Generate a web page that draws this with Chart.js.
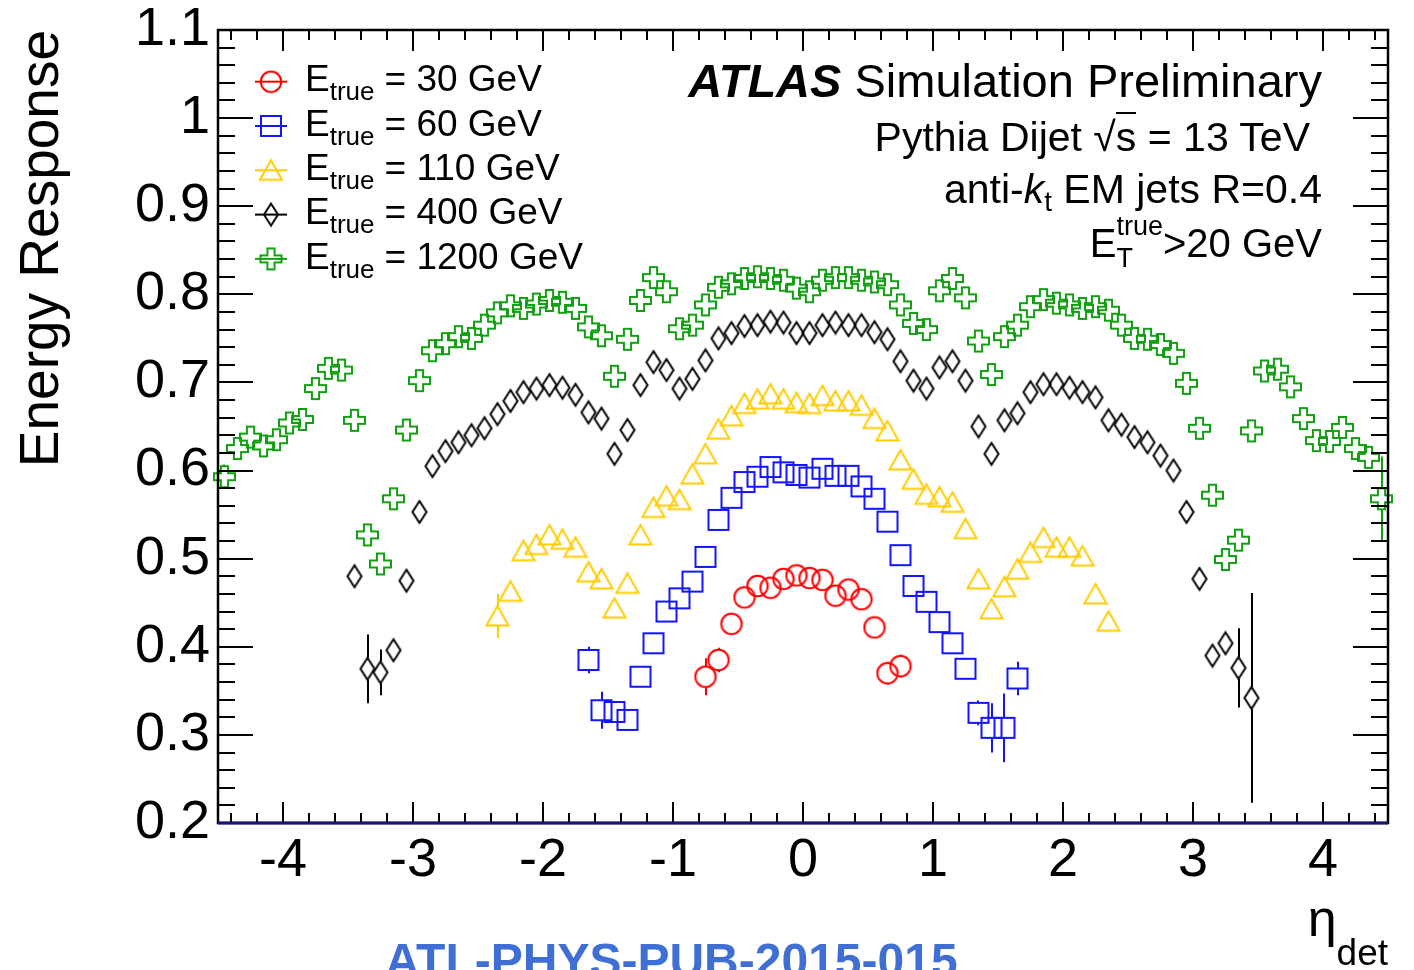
<!DOCTYPE html>
<html>
<head>
<meta charset="utf-8">
<title>Energy Response vs eta_det</title>
<script src="https://cdn.jsdelivr.net/npm/chart.js@4.4.1/dist/chart.umd.min.js"></script>
<style>
  html, body { margin: 0; padding: 0; background: #fff; overflow: hidden; }
  #wrap {
    position: relative; width: 1414px; height: 970px; overflow: hidden;
    font-family: "Liberation Sans", Arial, Helvetica, sans-serif; color: #000;
  }
  #wrap canvas { position: absolute; left: 0; top: 0; }
  .txt { position: absolute; white-space: nowrap; line-height: 1; }
  .lab { font-size: 47px; right: 92px; text-align: right; }
  .leg { font-size: 37px; left: 305px; }
  .leg .sub { font-size: 26px; position: relative; top: 9px; margin-right: 10px; }
</style>
</head>
<body>
<div id="wrap">
  <canvas id="responseChart" width="1414" height="970"></canvas>

  <div class="txt lab" style="top:57px;"><b><i>ATLAS</i></b> Simulation Preliminary</div>
  <div class="txt lab" style="top:117px; right:104px; font-size:41px;">Pythia Dijet &radic;<span style="border-top:2px solid #000;">s</span> = 13 TeV</div>
  <div class="txt lab" style="top:169px; font-size:41px;">anti-<i>k</i><span style="font-size:28px; position:relative; top:8px;">t</span> EM jets R=0.4</div>
  <div class="txt lab" style="top:223px; font-size:40px;">E<span style="position:relative; display:inline-block;"><span style="font-size:27px; position:relative; top:-22px;">true</span><span style="font-size:27px; position:absolute; left:0; top:22px;">T</span></span>&gt;20 GeV</div>

  <div id="legendText"></div>

  <div class="txt" style="right:26px; top:892px; font-size:52px;">&eta;<span style="font-size:37px; position:relative; top:29px;">det</span></div>
  <div class="txt" style="left:385px; top:937px; font-size:48px; font-weight:bold; color:#3f6fd4;">ATL-PHYS-PUB-2015-015</div>
</div>

<script>
"use strict";

// bin centres in eta_det
const ETA_BINS = [
  -4.45, -4.35, -4.25, -4.15, -4.05, -3.95, -3.85, -3.75, -3.65, -3.55,
  -3.45, -3.35, -3.25, -3.15, -3.05, -2.95, -2.85, -2.75, -2.65, -2.55,
  -2.45, -2.35, -2.25, -2.15, -2.05, -1.95, -1.85, -1.75, -1.65, -1.55,
  -1.45, -1.35, -1.25, -1.15, -1.05, -0.95, -0.85, -0.75, -0.65, -0.55,
  -0.45, -0.35, -0.25, -0.15, -0.05,  0.05,  0.15,  0.25,  0.35,  0.45,
   0.55,  0.65,  0.75,  0.85,  0.95,  1.05,  1.15,  1.25,  1.35,  1.45,
   1.55,  1.65,  1.75,  1.85,  1.95,  2.05,  2.15,  2.25,  2.35,  2.45,
   2.55,  2.65,  2.75,  2.85,  2.95,  3.05,  3.15,  3.25,  3.35,  3.45,
   3.55,  3.65,  3.75,  3.85,  3.95,  4.05,  4.15,  4.25,  4.35,  4.45,
];

const SERIES_LABELS = ["30 GeV", "60 GeV", "110 GeV", "400 GeV", "1200 GeV"];
const SERIES_FIRST_ETA = [-0.75, -1.65, -2.35, -3.45, -4.45];

const RESP_30 = [
  0.366, 0.385, 0.426, 0.456, 0.469, 0.467, 0.477, 0.481,
  0.478, 0.476, 0.458, 0.465, 0.454, 0.422, 0.370, 0.378,
];
const RESP_60 = [
  0.385, 0.328, 0.326, 0.317, 0.366, 0.404, 0.440, 0.455, 0.474, 0.502,
  0.544, 0.569, 0.587, 0.593, 0.604, 0.598, 0.595, 0.592, 0.602, 0.594,
  0.594, 0.582, 0.568, 0.542, 0.504, 0.469, 0.451, 0.428, 0.404, 0.375,
  0.325, 0.308, 0.308, 0.364,
];
const RESP_110 = [
  0.435, 0.463, 0.509, 0.516, 0.527, 0.522, 0.513, 0.485, 0.477, 0.444,
  0.472, 0.527, 0.558, 0.571, 0.567, 0.596, 0.619, 0.647, 0.662, 0.676,
  0.681, 0.687, 0.681, 0.677, 0.676, 0.685, 0.679, 0.679, 0.674, 0.659,
  0.645, 0.612, 0.590, 0.573, 0.570, 0.564, 0.534, 0.477, 0.443, 0.468,
  0.488, 0.507, 0.524, 0.513, 0.513, 0.503, 0.460, 0.429,
];
const RESP_400 = [
  0.480, 0.375, 0.371, 0.396, 0.475, 0.553, 0.605, 0.622, 0.632, 0.640,
  0.648, 0.664, 0.679, 0.689, 0.693, 0.697, 0.694, 0.686, 0.666, 0.659,
  0.619, 0.646, 0.697, 0.723, 0.714, 0.693, 0.704, 0.725, 0.750, 0.756,
  0.764, 0.765, 0.769, 0.768, 0.756, 0.756, 0.765, 0.768, 0.765, 0.765,
  0.757, 0.749, 0.724, 0.702, 0.693, 0.717, 0.724, 0.702, 0.650, 0.619,
  0.657, 0.665, 0.689, 0.698, 0.698, 0.694, 0.689, 0.683, 0.657, 0.652,
  0.638, 0.632, 0.617, 0.600, 0.553, 0.477, 0.390, 0.404, 0.376, 0.342,
];
const RESP_1200 = [
  0.593, 0.625, 0.638, 0.628, 0.635, 0.654, 0.658, 0.693, 0.716, 0.714,
  0.657, 0.527, 0.494, 0.568, 0.646, 0.702, 0.736, 0.744, 0.752, 0.750,
  0.765, 0.779, 0.787, 0.784, 0.789, 0.793, 0.791, 0.784, 0.763, 0.753,
  0.707, 0.749, 0.793, 0.819, 0.803, 0.761, 0.765, 0.788, 0.808, 0.812,
  0.818, 0.820, 0.818, 0.816, 0.807, 0.803, 0.816, 0.819, 0.819, 0.816,
  0.814, 0.811, 0.788, 0.767, 0.760, 0.804, 0.818, 0.796, 0.747, 0.709,
  0.752, 0.765, 0.786, 0.794, 0.790, 0.788, 0.784, 0.786, 0.782, 0.765,
  0.750, 0.749, 0.743, 0.733, 0.699, 0.648, 0.572, 0.499, 0.521, 0.645,
  0.713, 0.715, 0.695, 0.659, 0.634, 0.633, 0.649, 0.625, 0.615, 0.568,
];

// only the error bars that stick out of the markers: [eta, half-width]
const ERR_30   = [[-0.75, 0.021], [-0.65, 0.014], [0.65, 0.013], [0.75, 0.013]];
const ERR_60   = [[-1.65, 0.015], [-1.55, 0.021], [1.35, 0.014], [1.45, 0.028], [1.55, 0.039], [1.65, 0.019]];
const ERR_110  = [[-2.35, 0.025]];
const ERR_400  = [[-3.35, 0.039], [-3.25, 0.026], [3.35, 0.045], [3.45, 0.119]];
const ERR_1200 = [[-4.45, 0.014], [4.45, 0.048]];

const X_TICKS = [-4, -3, -2, -1, 0, 1, 2, 3, 4];
const Y_TICKS = [0.2, 0.3, 0.4, 0.5, 0.6, 0.7, 0.8, 0.9, 1.0, 1.1];
const Y_TICK_LABELS = ["0.2", "0.3", "0.4", "0.5", "0.6", "0.7", "0.8", "0.9", "1", "1.1"];

const FONT = "'Liberation Sans', Arial, Helvetica, sans-serif";
const COLORS = ["#ff0000", "#1414ff", "#ffcc00", "#000000", "#12a012"];

// ROOT-like open markers drawn once into small canvases
function makeMarker(kind, color) {
  const c = document.createElement("canvas");
  const g = c.getContext("2d");
  const dims = { circle: [24, 24], square: [24, 24], triangle: [26, 24], diamond: [18, 26], cross: [25, 25] };
  [c.width, c.height] = dims[kind];
  g.strokeStyle = color;
  g.lineWidth = 2;
  g.beginPath();
  if (kind === "circle") {
    g.arc(12, 12, 10.2, 0, Math.PI * 2);
  } else if (kind === "square") {
    g.rect(2, 2, 20, 20);
  } else if (kind === "triangle") {
    g.moveTo(13, 2); g.lineTo(24, 21.5); g.lineTo(2, 21.5); g.closePath();
  } else if (kind === "diamond") {
    g.moveTo(9, 2); g.lineTo(16, 13); g.lineTo(9, 24); g.lineTo(2, 13); g.closePath();
  } else {
    const m = 12.5, a = 3.6, l = 10.5;
    g.moveTo(m - a, m - l); g.lineTo(m + a, m - l); g.lineTo(m + a, m - a);
    g.lineTo(m + l, m - a); g.lineTo(m + l, m + a); g.lineTo(m + a, m + a);
    g.lineTo(m + a, m + l); g.lineTo(m - a, m + l); g.lineTo(m - a, m + a);
    g.lineTo(m - l, m + a); g.lineTo(m - l, m - a); g.lineTo(m - a, m - a);
    g.closePath();
  }
  g.stroke();
  return c;
}

const MARKER_KINDS = ["circle", "square", "triangle", "diamond", "cross"];
const MARKER_HALF  = [10.5, 10.5, 10, 11, 10.5];
const markers = MARKER_KINDS.map((k, i) => makeMarker(k, COLORS[i]));

const SERIES_VALUES = [RESP_30, RESP_60, RESP_110, RESP_400, RESP_1200];
const SERIES_ERRORS = [ERR_30, ERR_60, ERR_110, ERR_400, ERR_1200];

const datasets = SERIES_VALUES.map((vals, i) => {
  const start = ETA_BINS.indexOf(SERIES_FIRST_ETA[i]);
  return {
    label: "E_true = " + SERIES_LABELS[i],
    data: vals.map((v, j) => ({ x: ETA_BINS[start + j], y: v })),
    errors: SERIES_ERRORS[i],
    markerHalf: MARKER_HALF[i],
    borderColor: COLORS[i],
    pointStyle: markers[i],
    pointRadius: 10,
    showLine: false,
    clip: false,
  };
});

const errorBarPlugin = {
  id: "errorBars",
  beforeDatasetsDraw(chart) {
    const { ctx, scales: { x, y } } = chart;
    chart.data.datasets.forEach((ds) => {
      ctx.save();
      ctx.strokeStyle = ds.borderColor;
      ctx.lineWidth = 2;
      ctx.beginPath();
      ds.errors.forEach(([eta, err]) => {
        const pt = ds.data.find((p) => Math.abs(p.x - eta) < 1e-6);
        if (!pt) return;
        const px = Math.round(x.getPixelForValue(pt.x));
        const yc = y.getPixelForValue(pt.y);
        const yHi = y.getPixelForValue(pt.y + err);
        const yLo = y.getPixelForValue(pt.y - err);
        if (yc - yHi > ds.markerHalf) { ctx.moveTo(px, yHi); ctx.lineTo(px, yc - ds.markerHalf); }
        if (yLo - yc > ds.markerHalf) { ctx.moveTo(px, yc + ds.markerHalf); ctx.lineTo(px, yLo); }
      });
      ctx.stroke();
      ctx.restore();
    });
  },
};

const frameTicksPlugin = {
  id: "rootFrame",
  afterDraw(chart) {
    const { ctx, chartArea: a, scales: { x, y } } = chart;
    ctx.save();
    ctx.strokeStyle = "#000";
    ctx.lineWidth = 2;
    ctx.beginPath();
    for (let k = -22; k <= 22; k++) {
      const px = Math.round(x.getPixelForValue(k * 0.2));
      const len = k % 5 === 0 ? 21 : 10;
      ctx.moveTo(px, a.bottom); ctx.lineTo(px, a.bottom - len);
      ctx.moveTo(px, a.top);    ctx.lineTo(px, a.top + len);
    }
    for (let k = 10; k <= 55; k++) {
      const py = Math.round(y.getPixelForValue(k * 0.02));
      const len = k % 5 === 0 ? 35 : 17;
      ctx.moveTo(a.left, py);  ctx.lineTo(a.left + len, py);
      ctx.moveTo(a.right, py); ctx.lineTo(a.right - len, py);
    }
    ctx.stroke();
    ctx.lineWidth = 2.5;
    ctx.strokeRect(a.left, a.top, a.right - a.left, a.bottom - a.top);
    ctx.strokeStyle = "#16167e";
    ctx.lineWidth = 3;
    ctx.beginPath();
    ctx.moveTo(a.left, a.bottom); ctx.lineTo(a.right, a.bottom);
    ctx.stroke();
    ctx.restore();
  },
};

// legend symbols (text is in the html overlay)
const LEG_X = 271, LEG_Y0 = 81.7, LEG_DY = 44.3;
const legendPlugin = {
  id: "rootLegend",
  afterDraw(chart) {
    const { ctx } = chart;
    ctx.save();
    markers.forEach((m, i) => {
      const cy = LEG_Y0 + i * LEG_DY;
      ctx.strokeStyle = COLORS[i];
      ctx.lineWidth = 2;
      ctx.beginPath();
      ctx.moveTo(LEG_X - 16, cy); ctx.lineTo(LEG_X + 16, cy);
      ctx.stroke();
      ctx.drawImage(m, LEG_X - m.width / 2, cy - m.height / 2);
    });
    ctx.restore();
  },
};

document.getElementById("legendText").innerHTML = SERIES_LABELS.map((lab, i) => {
  const top = LEG_Y0 + 10 + i * LEG_DY - 31.3;
  return `<div class="txt leg" style="top:${top}px;">E<span class="sub">true</span>= ${lab}</div>`;
}).join("");

new Chart(document.getElementById("responseChart"), {
  type: "scatter",
  data: { datasets },
  options: {
    responsive: false,
    animation: false,
    events: [],
    layout: { padding: { left: 0, right: 26, top: 30, bottom: 0 } },
    plugins: { legend: { display: false }, tooltip: { enabled: false } },
    scales: {
      x: {
        type: "linear",
        min: -4.5,
        max: 4.5,
        grid: { display: false },
        border: { display: false },
        afterBuildTicks: (s) => { s.ticks = X_TICKS.map((v) => ({ value: v })); },
        afterFit: (s) => { s.height = 147; s.paddingLeft = 0; s.paddingRight = 0; },
        ticks: {
          autoSkip: false,
          maxRotation: 0,
          padding: 3,
          color: "#000",
          font: { family: FONT, size: 54, lineHeight: 1 },
          callback: (v) => String(v),
        },
      },
      y: {
        type: "linear",
        min: 0.2,
        max: 1.1,
        grid: { display: false },
        border: { display: false },
        afterBuildTicks: (s) => { s.ticks = Y_TICKS.map((v) => ({ value: v })); },
        afterFit: (s) => { s.width = 218; s.paddingTop = 0; s.paddingBottom = 0; },
        ticks: {
          autoSkip: false,
          padding: 0,
          color: "#000",
          font: { family: FONT, size: 54, lineHeight: 1 },
          callback: (v, i) => Y_TICK_LABELS[i],
        },
        title: {
          display: true,
          text: "Energy Response",
          align: "end",
          color: "#000",
          font: { family: FONT, size: 55 },
          padding: { top: 10, bottom: 0 },
        },
      },
    },
  },
  plugins: [errorBarPlugin, frameTicksPlugin, legendPlugin],
});
</script>
</body>
</html>
